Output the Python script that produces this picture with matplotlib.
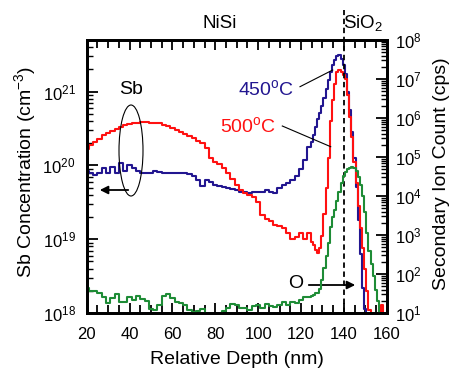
import numpy as np
import matplotlib
matplotlib.use("Agg")
import matplotlib.pyplot as plt
from matplotlib.patches import Ellipse
from matplotlib.ticker import LogLocator, MultipleLocator, NullFormatter

plt.rcParams["font.family"] = ["Liberation Sans", "DejaVu Sans"]
plt.rcParams["mathtext.fontset"] = "custom"
plt.rcParams["mathtext.rm"] = "Liberation Sans"
plt.rcParams["mathtext.default"] = "regular"

# depth grid (nm)
depth = [20, 22, 24, 26, 28, 30, 32, 34, 36, 38, 40, 42, 44, 46, 48, 50, 52, 54, 56, 58,
         60, 62, 64, 66, 68, 70, 72, 74, 76, 78, 80, 82, 84, 86, 88, 90, 92, 94, 96, 98,
         100, 102, 104, 106, 108, 110, 112, 114, 116, 118, 120, 122, 124,
         125, 126, 127, 128, 129, 130, 131, 132, 133, 134, 135, 136, 137, 138, 139, 140,
         141, 142, 143, 144, 145, 146, 147, 148, 149, 150, 151, 152, 153, 154, 155, 156,
         157, 158, 159]

# Sb concentration, 450 C (cm^-3)
sb_450 = [8.3e19, 7.8e19, 7.4e19, 7.8e19, 9.1e19, 7.8e19, 9.5e19, 7.8e19, 1.07e20, 8.3e19,
          1.02e20, 9.3e19, 8.5e19, 7.8e19, 7.8e19, 7.9e19, 8.3e19, 8.1e19, 7.9e19, 7.8e19,
          7.8e19, 7.9e19, 7.9e19, 7.8e19, 7.6e19, 7.1e19, 6.3e19, 5.2e19, 6.3e19, 6.0e19,
          5.5e19, 5.2e19, 5.1e19, 4.9e19, 4.8e19, 4.7e19, 4.4e19, 4.3e19, 4.2e19, 4.4e19,
          4.3e19, 4.4e19, 4.6e19, 4.4e19, 4.2e19, 5.0e19, 5.5e19, 5.8e19, 6.3e19, 7.2e19,
          8.9e19, 1.17e20, 1.78e20,
          2.1e20, 2.6e20, 3.3e20, 4.2e20, 5.2e20, 6.3e20, 8.3e20, 1.1e21, 1.45e21, 1.86e21,
          2.3e21, 2.7e21, 3.0e21, 3.16e21, 2.8e21, 2.3e21,
          1.74e21, 1.0e21, 5.6e20, 2.8e20, 1.26e20, 5.1e19, 1.8e19, 6.3e18, 2.2e18, 1.12e18,
          5e17, 3e17, 3e17, 3e17, 3e17, 3e17, 3e17, 3e17, 3e17]

# Sb concentration, 500 C (cm^-3)
sb_500 = [1.66e20, 1.9e20, 2.1e20, 2.3e20, 2.6e20, 2.75e20, 2.95e20, 3.16e20, 3.3e20, 3.5e20,
          3.6e20, 3.7e20, 3.8e20, 3.9e20, 3.9e20, 3.8e20, 3.8e20, 3.7e20, 3.55e20, 3.4e20,
          3.2e20, 3.0e20, 2.8e20, 2.7e20, 2.5e20, 2.35e20, 2.15e20, 2.0e20, 1.7e20, 1.26e20,
          1.12e20, 1.05e20, 9.3e19, 7.9e19, 6.6e19, 5.5e19, 4.7e19, 4.2e19, 4.0e19, 3.7e19,
          3.16e19, 2.1e19, 1.86e19, 1.74e19, 1.58e19, 1.5e19, 1.4e19, 1.2e19, 1.02e19, 1.07e19,
          1.2e19, 1.02e19, 1.2e19,
          9.3e18, 8.3e18, 7.1e18, 6.6e18, 7.6e18, 1.12e19, 2.2e19, 5.0e19, 1.26e20, 4.0e20,
          7.6e20, 1.26e21, 1.86e21, 1.95e21, 1.82e21, 1.66e21,
          1.5e21, 8.9e20, 4.5e20, 2.4e20, 1.12e20, 5.8e19, 2.8e19, 1.4e19, 7.6e18, 4.0e18,
          2.0e18, 1.1e18, 6e17, 4e17, 4e17, 4e17, 6e17, 1.3e18, 6e17]

# oxygen secondary ion count (cps)
o_cps = [43, 37, 37, 33, 25, 18, 24, 30, 19, 19,
         25, 21, 27, 23, 20, 12.6, 12, 16, 28, 30,
         24, 19.5, 18, 16, 12, 10.7, 11, 12.3, 9, 8,
         8.3, 9.5, 11.2, 13.8, 16.6, 15.8, 13.8, 13.5, 12, 15,
         15.8, 13.2, 16.6, 15, 14.5, 16.2, 19, 15.8, 18.6, 17.8,
         21, 26, 26,
         27.5, 29, 32, 33, 42, 71, 141, 282, 631, 1585,
         2820, 4470, 7600, 12600, 21400, 33000,
         41700, 47900, 52500, 56000, 52500, 44700, 31600, 19000, 10000, 4000,
         1120, 400, 180, 90, 40, 20, 8, 5, 5]

fig = plt.figure(figsize=(4.57, 3.74), dpi=100)
ax = fig.add_axes([86.7 / 457, 1 - 313 / 374, 300 / 457, 273 / 374])
ax2 = ax.twinx()

blue = "#221690"
red = "#ff1111"
green = "#1e8c36"

ax.plot(depth, sb_450, color=blue, lw=1.5, drawstyle="steps-mid")
ax.plot(depth, sb_500, color=red, lw=1.5, drawstyle="steps-mid")
ax2.plot(depth, o_cps, color=green, lw=1.5, drawstyle="steps-mid")

ax.set_xlim(20, 160)
ax.set_yscale("log")
ax.set_ylim(1e18, 5e21)
ax2.set_yscale("log")
ax2.set_ylim(1e1, 1e8)

ax.xaxis.set_major_locator(MultipleLocator(20))
ax.xaxis.set_minor_locator(MultipleLocator(5))
ax.yaxis.set_major_locator(LogLocator(base=10, numticks=10))
ax.yaxis.set_minor_locator(LogLocator(base=10, subs=np.arange(2, 10), numticks=10))
ax.yaxis.set_minor_formatter(NullFormatter())
ax2.yaxis.set_major_locator(LogLocator(base=10, numticks=10))
ax2.yaxis.set_minor_locator(LogLocator(base=10, subs=np.arange(2, 10), numticks=10))
ax2.yaxis.set_minor_formatter(NullFormatter())

ax.tick_params(axis="x", which="both", direction="in", top=True, labelsize=12, pad=10)
ax.tick_params(axis="x", which="major", length=7, width=1.3)
ax.tick_params(axis="x", which="minor", length=6, width=1.3)
ax.tick_params(axis="y", which="both", direction="in", right=False, labelsize=12, pad=8)
ax.tick_params(axis="y", which="major", length=8, width=1.3)
ax.tick_params(axis="y", which="minor", length=4, width=1)
ax2.tick_params(axis="y", which="both", direction="in", labelsize=12, pad=6)
ax2.tick_params(axis="y", which="major", length=8, width=1.3)
ax2.tick_params(axis="y", which="minor", length=4, width=1)

for a in (ax, ax2):
    for s in a.spines.values():
        s.set_linewidth(2)

# interface marker
ax.axvline(140, ymin=0, ymax=1 + 30 / 273, color="black", lw=1.3, ls=(0, (3, 2)), clip_on=False)


def fx(px):
    return px / 457


def fy(py):
    return 1 - py / 374


fig.text(fx(220), fy(23), "NiSi", ha="center", va="center", fontsize=13.5)
fig.text(fx(343), fy(23), "SiO$_2$", ha="left", va="center", fontsize=13.5)

fig.text(fx(236.5), fy(360), "Relative Depth (nm)", ha="center", va="center", fontsize=14)
fig.text(fx(25), fy(172), "Sb Concentration (cm$^{-3}$)", ha="center", va="center",
         rotation=90, fontsize=14)
fig.text(fx(441), fy(174), "Secondary Ion Count (cps)", ha="center", va="center",
         rotation=90, fontsize=14)

fig.text(fx(266.5), fy(89.5), "450$^{o}$C", color=blue, ha="center", va="center", fontsize=14)
fig.text(fx(248.5), fy(126), "500$^{o}$C", color=red, ha="center", va="center", fontsize=14)
fig.text(fx(131), fy(90), "Sb", ha="center", va="center", fontsize=14)
fig.text(fx(296), fy(284), "O", ha="center", va="center", fontsize=14)

fig.add_artist(plt.Line2D([fx(300), fx(332.7)], [fy(86.7), fy(70)], color="black", lw=0.8))
fig.add_artist(plt.Line2D([fx(282.3), fx(330.7)], [fy(126), fy(146.7)], color="black", lw=0.8))

fig.add_artist(Ellipse((fx(131), fy(150.5)), 24 / 457, 91 / 374, fill=False,
                       edgecolor="black", lw=0.8))
ax.annotate("", xy=(fx(97), fy(190)), xytext=(fx(131), fy(190)),
            xycoords="figure fraction", textcoords="figure fraction",
            arrowprops=dict(arrowstyle="-|>", color="black", lw=1.3, mutation_scale=12))
ax.annotate("", xy=(fx(358), fy(285)), xytext=(fx(306), fy(285)),
            xycoords="figure fraction", textcoords="figure fraction",
            arrowprops=dict(arrowstyle="-|>", color="black", lw=1.3, mutation_scale=12))

fig.savefig("out.png", dpi=100)
